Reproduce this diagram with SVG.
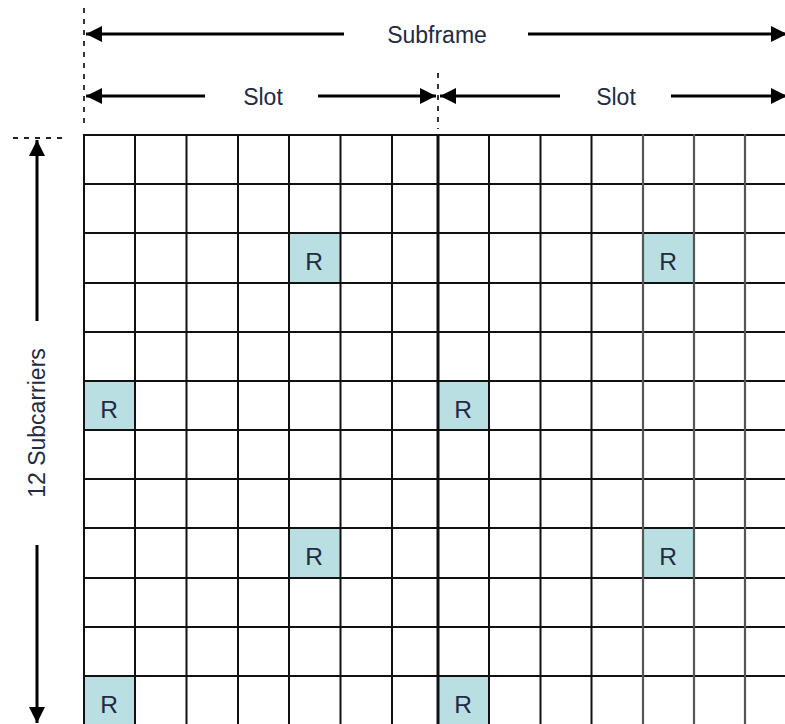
<svg xmlns="http://www.w3.org/2000/svg" width="785" height="724" viewBox="0 0 785 724">
<style>
.lbl{font-family:"Liberation Sans",Arial,sans-serif;font-size:23px;fill:#222a44;text-anchor:middle}
.r{font-family:"Liberation Sans",Arial,sans-serif;font-size:24.5px;fill:#222a44;text-anchor:middle}
.cell{fill:#badfe2}
.arr{stroke:#000;stroke-width:3;fill:none}
.dash{stroke:#222;stroke-width:1.8;stroke-dasharray:5,6;fill:none}
.g{stroke:#111;stroke-width:2}
.gl{stroke:#555;stroke-width:2.2}
</style>
<defs>
<marker id="ah" markerUnits="userSpaceOnUse" markerWidth="17" markerHeight="18" refX="16" refY="9" orient="auto-start-reverse" viewBox="0 0 17 18">
<path d="M0,1 L16,9 L0,17 z" fill="#000"/>
</marker>
</defs>
<rect width="785" height="724" fill="#fff"/>

<g id="r-cells">
<g id="r1"><rect class="cell" x="289" y="233" width="52" height="50"/><text class="r" x="314" y="270">R</text></g>
<g id="r2"><rect class="cell" x="643" y="233" width="51" height="50"/><text class="r" x="668" y="270">R</text></g>
<g id="r3"><rect class="cell" x="84" y="381" width="51" height="49"/><text class="r" x="109" y="418">R</text></g>
<g id="r4"><rect class="cell" x="438" y="381" width="51" height="49"/><text class="r" x="463" y="418">R</text></g>
<g id="r5"><rect class="cell" x="289" y="528" width="52" height="50"/><text class="r" x="314" y="565">R</text></g>
<g id="r6"><rect class="cell" x="643" y="528" width="51" height="50"/><text class="r" x="668" y="565">R</text></g>
<g id="r7"><rect class="cell" x="84" y="676" width="51" height="50"/><text class="r" x="109" y="713">R</text></g>
<g id="r8"><rect class="cell" x="438" y="676" width="51" height="50"/><text class="r" x="463" y="713">R</text></g>
</g>

<g id="grid">
<line class="g" x1="84" y1="135" x2="785" y2="135"/>
<line class="g" x1="84" y1="184" x2="785" y2="184"/>
<line class="g" x1="84" y1="233" x2="785" y2="233"/>
<line class="g" x1="84" y1="283" x2="785" y2="283"/>
<line class="g" x1="84" y1="332" x2="785" y2="332"/>
<line class="g" x1="84" y1="381" x2="785" y2="381"/>
<line class="g" x1="84" y1="430" x2="785" y2="430"/>
<line class="g" x1="84" y1="479" x2="785" y2="479"/>
<line class="g" x1="84" y1="528" x2="785" y2="528"/>
<line class="g" x1="84" y1="578" x2="785" y2="578"/>
<line class="g" x1="84" y1="627" x2="785" y2="627"/>
<line class="g" x1="84" y1="676" x2="785" y2="676"/>
<line class="g" x1="84" y1="134" x2="84" y2="724"/>
<line class="g" x1="135" y1="134" x2="135" y2="724"/>
<line class="g" x1="186.5" y1="134" x2="186.5" y2="724"/>
<line class="g" x1="238" y1="134" x2="238" y2="724"/>
<line class="g" x1="289" y1="134" x2="289" y2="724"/>
<line class="g" x1="340.5" y1="134" x2="340.5" y2="724"/>
<line class="g" x1="392" y1="134" x2="392" y2="724"/>
<line class="g" x1="438" y1="134" x2="438" y2="724" style="stroke-width:3"/>
<line class="g" x1="489" y1="134" x2="489" y2="724"/>
<line class="g" x1="540.5" y1="134" x2="540.5" y2="724"/>
<line class="g" x1="591.5" y1="134" x2="591.5" y2="724"/>
<line class="gl" x1="643" y1="134" x2="643" y2="724"/>
<line class="gl" x1="694" y1="134" x2="694" y2="724"/>
<line class="gl" x1="745" y1="134" x2="745" y2="724"/>
</g>

<g id="connectors">
<line class="dash" x1="84" y1="8" x2="84" y2="124"/>
<line class="dash" x1="438" y1="73" x2="438" y2="129"/>
<line class="dash" x1="13" y1="138" x2="66" y2="138"/>
<line class="arr" x1="344" y1="34" x2="86" y2="34" marker-end="url(#ah)"/>
<line class="arr" x1="528" y1="34" x2="787" y2="34" marker-end="url(#ah)"/>
<line class="arr" x1="205" y1="96" x2="86" y2="96" marker-end="url(#ah)"/>
<line class="arr" x1="318" y1="96" x2="436" y2="96" marker-end="url(#ah)"/>
<line class="arr" x1="560" y1="96" x2="440" y2="96" marker-end="url(#ah)"/>
<line class="arr" x1="671" y1="96" x2="787" y2="96" marker-end="url(#ah)"/>
<line class="arr" x1="37" y1="321" x2="37" y2="140" marker-end="url(#ah)"/>
<line class="arr" x1="37" y1="545" x2="37" y2="723" marker-end="url(#ah)"/>
</g>

<g id="labels">
<text class="lbl" x="437" y="43">Subframe</text>
<text class="lbl" x="263" y="105">Slot</text>
<text class="lbl" x="616" y="105">Slot</text>
<text class="lbl" x="45" y="423" transform="rotate(-90 45 423)">12 Subcarriers</text>
</g>
</svg>
